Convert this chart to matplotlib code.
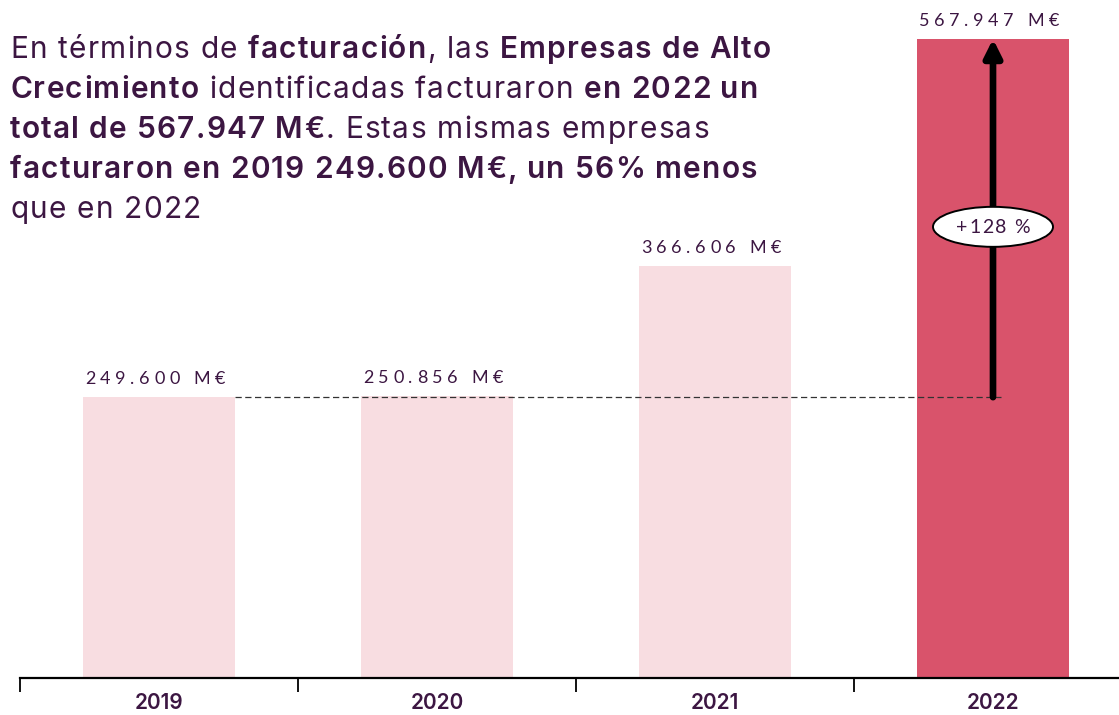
import matplotlib
matplotlib.use("Agg")
import matplotlib.pyplot as plt
from matplotlib.patches import Ellipse, FancyArrowPatch
from matplotlib.transforms import IdentityTransform

# datos
years = ["2019", "2020", "2021", "2022"]
facturacion = [249.600, 250.856, 366.606, 567.947]
etiquetas = ["249.600 M€", "250.856 M€", "366.606 M€", "567.947 M€"]
crecimiento = "+128 %"

titulo = [
    [("En términos de ", False), ("facturación", True), (", las ", False), ("Empresas de Alto", True)],
    [("Crecimiento", True), (" identificadas facturaron ", False), ("en 2022 un", True)],
    [("total de 567.947 M€", True), (". Estas mismas empresas", False)],
    [("facturaron en 2019 249.600 M€, un 56% menos", True)],
    [("que en 2022", False)],
]

morado = "#3c1642"
rosa_claro = "#f8dde1"
rosa = "#d9536b"

W, H = 1119, 715
fig = plt.figure(figsize=(W / 100, H / 100), dpi=100)
r = fig.canvas.get_renderer()

# ejes: linea base en y=678 px, primer tick en x=20 px, 278 px por categoria
ax = fig.add_axes([20 / W, (H - 678) / H, (W - 20) / W, 639 / H])
ax.set_xlim(-0.5, (W - 20) / 278 - 0.5)
ax.set_ylim(0, max(facturacion))

colores = [rosa_claro, rosa_claro, rosa_claro, rosa]
xs = range(len(years))
ax.bar(xs, facturacion, width=0.547, color=colores, zorder=2)

for s in ["top", "right", "left"]:
    ax.spines[s].set_visible(False)
ax.spines["bottom"].set_linewidth(1.6)
ax.spines["bottom"].set_color("black")
ax.set_yticks([])
ax.set_xticks(xs)
ax.set_xticklabels(years, fontsize=15, fontweight="semibold", color=morado, family="Inter")
ax.tick_params(axis="x", which="major", length=0, pad=11)
ax.set_xticks([-0.5, 0.5, 1.5, 2.5], minor=True)
ax.tick_params(axis="x", which="minor", length=10, width=1.3, direction="out", color="black")


def ancho(s, **kw):
    t = fig.text(0, 0, "|" + s + "|", **kw)
    w1 = t.get_window_extent(r).width
    t.set_text("||")
    w2 = t.get_window_extent(r).width
    t.remove()
    return w1 - w2


def letras(x, yb, s, track, **kw):
    # dibuja letra a letra y devuelve la x final
    for c in s:
        if c != " ":
            fig.text(x, yb, c, transform=IdentityTransform(), va="baseline", **kw)
        x += ancho(c, **kw) + track
    return x


# titulo con partes en negrita
fs_t = 21.5
y = H - 58
for linea in titulo:
    x = 10
    for txt, negrita in linea:
        kw = dict(fontsize=fs_t, family="Inter", color=morado,
                  fontweight="semibold" if negrita else "normal")
        x = letras(x, y, txt, 1.25, **kw)
    y -= 40


# etiquetas con espaciado entre letras
def espaciado(xc, yb, s, track=3.6, **kw):
    ws = [ancho(c, **kw) for c in s]
    total = sum(ws) + track * (len(s) - 1)
    letras(xc - total / 2, yb, s, track, **kw)


for i, (v, lab) in enumerate(zip(facturacion, etiquetas)):
    px, py = ax.transData.transform((i, v))
    espaciado(px - 4, py + 13, lab, track=4.6, fontsize=13, family="Lato", color=morado)

# linea discontinua desde 2019
ax.plot([0.274, 3.03], [facturacion[0], facturacion[0]], color="#333333",
        lw=0.9, ls=(0, (5, 2.8)), zorder=3, clip_on=False)

# flecha de crecimiento
flecha = FancyArrowPatch((3, facturacion[0]), (3, facturacion[3]),
                         arrowstyle="-|>", mutation_scale=26, lw=4.8,
                         color="black", shrinkA=0, shrinkB=0, zorder=4,
                         clip_on=False)
ax.add_patch(flecha)

ex, ey = ax.transData.transform((3, 401))
elipse = Ellipse((ex, ey), 120, 40, transform=IdentityTransform(),
                 facecolor="white", edgecolor="black", lw=1.4, zorder=5)
fig.add_artist(elipse)
espaciado(ex, ey - 6, crecimiento, track=1.5, fontsize=14, family="Lato", color=morado, zorder=6)

fig.savefig("out.png", dpi=100)
